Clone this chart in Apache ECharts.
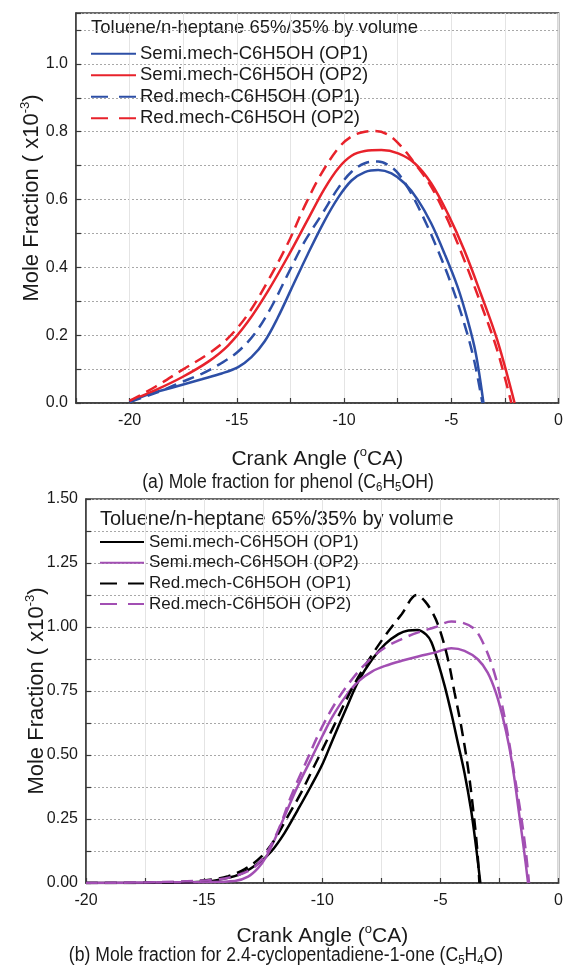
<!DOCTYPE html>
<html><head><meta charset="utf-8">
<script src="https://cdn.jsdelivr.net/npm/echarts@6/dist/echarts.min.js"></script>
<style>html,body{margin:0;padding:0;background:#fff}#c{width:566px;height:966px}</style>
</head><body><div id="c"></div>
<script>
// ---------- data ----------
const legendTitle = 'Toluene/n-heptane 65%/35% by volume';
const seriesNames = ['Semi.mech-C6H5OH (OP1)', 'Semi.mech-C6H5OH (OP2)', 'Red.mech-C6H5OH (OP1)', 'Red.mech-C6H5OH (OP2)'];
const topXLabels = [-20, -15, -10, -5, 0];
const topYLabels = ['0.0', '0.2', '0.4', '0.6', '0.8', '1.0'];
const botXLabels = [-20, -15, -10, -5, 0];
const botYLabels = ['0.00', '0.25', '0.50', '0.75', '1.00', '1.25', '1.50'];

// (a) phenol
const phenolSemiOP1 = [[-20,0.003],[-18.95,0.029],[-17.87,0.048],[-16.64,0.07],[-15.71,0.087],[-14.94,0.106],[-14.32,0.135],[-13.7,0.182],[-13.09,0.252],[-12.47,0.335],[-11.7,0.438],[-10.93,0.535],[-10.26,0.607],[-9.65,0.656],[-9.03,0.681],[-8.41,0.687],[-7.79,0.677],[-7.18,0.648],[-6.56,0.599],[-5.94,0.53],[-5.32,0.441],[-4.71,0.343],[-4.24,0.245],[-3.86,0.147],[-3.5,0]];
const phenolSemiOP2 = [[-20,0.006],[-18.8,0.038],[-17.56,0.076],[-16.33,0.122],[-15.4,0.17],[-14.48,0.24],[-13.55,0.33],[-12.62,0.432],[-11.7,0.54],[-10.93,0.63],[-10.26,0.693],[-9.65,0.729],[-9.03,0.743],[-8.26,0.746],[-7.48,0.736],[-6.71,0.707],[-5.94,0.648],[-5.17,0.559],[-4.4,0.451],[-3.63,0.323],[-2.86,0.186],[-2.05,0]];
const phenolRedOP1 = [[-20,0.003],[-18.64,0.033],[-17.56,0.062],[-16.64,0.086],[-15.71,0.118],[-14.94,0.152],[-14.17,0.204],[-13.4,0.282],[-12.62,0.38],[-11.85,0.475],[-11.0,0.56],[-10.26,0.635],[-9.65,0.682],[-9.03,0.707],[-8.41,0.712],[-7.95,0.702],[-7.48,0.677],[-6.87,0.618],[-6.25,0.54],[-5.63,0.451],[-5.02,0.353],[-4.4,0.235],[-3.94,0.127],[-3.55,0]];
const phenolRedOP2 = [[-20,0.006],[-18.8,0.048],[-17.56,0.097],[-16.33,0.145],[-15.4,0.192],[-14.48,0.262],[-13.55,0.36],[-12.62,0.471],[-11.85,0.579],[-11.08,0.674],[-10.26,0.752],[-9.65,0.786],[-9.03,0.8],[-8.56,0.802],[-7.95,0.791],[-7.33,0.756],[-6.71,0.707],[-5.94,0.638],[-5.17,0.54],[-4.4,0.422],[-3.63,0.294],[-2.86,0.156],[-2.2,0]];

// (b) 2.4-cyclopentadiene-1-one
const cpdSemiOP1 = [[-20,0],[-17,0.001],[-15,0.005],[-14.1,0.018],[-13.4,0.038],[-12.7,0.077],[-12.16,0.123],[-11.6,0.195],[-11.04,0.285],[-10.48,0.378],[-9.99,0.465],[-9.58,0.555],[-9.02,0.675],[-8.46,0.79],[-7.9,0.872],[-7.34,0.933],[-6.78,0.972],[-6.36,0.986],[-5.97,0.988],[-5.6,0.97],[-5.38,0.94],[-5.1,0.861],[-4.82,0.77],[-4.54,0.664],[-4.26,0.547],[-3.98,0.43],[-3.7,0.284],[-3.49,0.14],[-3.31,0]];
const cpdSemiOP2 = [[-20,0],[-17.5,0.002],[-15,0.004],[-13.7,0.008],[-13.14,0.025],[-12.72,0.058],[-12.37,0.103],[-12.02,0.169],[-11.6,0.26],[-11.04,0.378],[-10.48,0.483],[-9.99,0.575],[-9.58,0.648],[-9.02,0.728],[-8.46,0.789],[-7.9,0.826],[-7.34,0.848],[-6.64,0.868],[-5.94,0.885],[-5.24,0.9],[-4.54,0.917],[-3.98,0.907],[-3.42,0.874],[-3.0,0.822],[-2.65,0.743],[-2.37,0.651],[-2.09,0.533],[-1.88,0.415],[-1.67,0.271],[-1.46,0.127],[-1.29,0]];
const cpdRedOP1 = [[-20,0],[-17,0.001],[-16,0.004],[-14.68,0.014],[-13.98,0.027],[-13.28,0.054],[-12.58,0.103],[-12.02,0.169],[-11.46,0.26],[-10.9,0.352],[-10.34,0.457],[-9.99,0.522],[-9.58,0.6],[-8.74,0.76],[-8.04,0.87],[-7.34,0.966],[-6.64,1.05],[-6.0,1.125],[-5.65,1.1],[-5.3,1.05],[-5.03,0.99],[-4.68,0.874],[-4.4,0.743],[-4.12,0.612],[-3.84,0.455],[-3.63,0.3],[-3.45,0.14],[-3.35,0]];
const cpdRedOP2 = [[-20,0],[-17.5,0.002],[-16,0.006],[-14.4,0.014],[-13.7,0.027],[-13.0,0.054],[-12.58,0.09],[-12.16,0.149],[-11.74,0.234],[-11.32,0.339],[-10.76,0.457],[-10.06,0.6],[-9.44,0.704],[-8.74,0.796],[-8.04,0.868],[-7.34,0.92],[-6.64,0.953],[-5.94,0.979],[-5.24,0.999],[-4.54,1.021],[-4.12,1.018],[-3.56,0.992],[-3.14,0.927],[-2.72,0.822],[-2.44,0.717],[-2.16,0.586],[-1.88,0.429],[-1.6,0.271],[-1.39,0.127],[-1.25,0]];

// ---------- style ----------
const FONT = "'Liberation Sans', Arial, sans-serif";
const AX = '#3a3a3a';
const TXT = '#1a1a1a';
const BLUE = '#2d4fa6', RED = '#e8222b', BLACK = '#000000', PURPLE = '#a24fb3';
const DASH = [12, 7];
const LEG_DASH = [17, 11];
const botNames = seriesNames.map(n => n + '\u200b');

function mkSeries(name, data, color, dashed, xi) {
  return {
    name, type: 'line', xAxisIndex: xi, yAxisIndex: xi, data,
    symbol: 'none', showSymbol: false, smooth: 0.35,
    color, lineStyle: { color, width: 2.5, type: dashed ? DASH : 'solid' },
    emphasis: { disabled: true }, animation: false
  };
}

function legendData(names) {
  return names.map((n, i) => i >= 2 ? { name: n, lineStyle: { type: LEG_DASH } } : { name: n });
}

function xAxis(gi, min, labels, gap) {
  return {
    gridIndex: gi, type: 'value', min, max: 0, interval: 2.5,
    axisLine: { show: true, onZero: false, lineStyle: { color: AX, width: 1.5 } },
    axisTick: { show: true, inside: true, length: 5, lineStyle: { color: AX, width: 1.2 } },
    axisLabel: { fontSize: 16, color: TXT, fontFamily: FONT, margin: 10,
      formatter: v => (Math.abs(v - Math.round(v)) < 1e-9 && labels.includes(Math.round(v))) ? String(Math.round(v)) : '' },
    splitLine: { show: true, lineStyle: { color: '#e4e4e4', width: 1 } },
    name: 'Crank Angle ({sup|o}CA)', nameLocation: 'middle', nameGap: gap, nameMoveOverlap: false,
    nameTextStyle: { fontSize: 21, color: TXT, fontFamily: FONT,
      rich: { sup: { fontSize: 13, color: TXT, fontFamily: FONT, padding: [0, 0, 13, 0] } } }
  };
}

function yAxis(gi, max, interval, labels, digits, gap, shift) {
  return {
    gridIndex: gi, type: 'value', min: 0, max, interval,
    axisLine: { show: true, onZero: false, lineStyle: { color: AX, width: 1.5 } },
    axisTick: { show: true, inside: true, length: 5, lineStyle: { color: AX, width: 1.2 } },
    axisLabel: { fontSize: 16, color: TXT, fontFamily: FONT, margin: 8,
      formatter: v => { const s = v.toFixed(digits); return (labels.includes(s) && Math.abs(parseFloat(s) - v) < 1e-6) ? s : ''; } },
    splitLine: { show: true, lineStyle: { color: '#a8a8a8', width: 1, type: [2, 2] } },
    name: 'Mole Fraction ( x10{sup|-3})', nameLocation: 'middle', nameGap: gap, nameMoveOverlap: false,
    nameTextStyle: { fontSize: 22, color: TXT, fontFamily: FONT, padding: [0, 0, 0, shift],
      rich: { sup: { fontSize: 13, color: TXT, fontFamily: FONT, padding: [0, 0, 13, 0] } } }
  };
}

const chart = echarts.init(document.getElementById('c'), null, { renderer: 'canvas' });
chart.setOption({
  animation: false,
  backgroundColor: '#ffffff',
  grid: [
    { left: 76, top: 13, width: 486, height: 390, show: true, borderColor: AX, borderWidth: 1.5, backgroundColor: 'transparent' },
    { left: 86, top: 499, width: 476, height: 384, show: true, borderColor: AX, borderWidth: 1.5, backgroundColor: 'transparent' }
  ],
  xAxis: [ xAxis(0, -22.5, topXLabels, 43), xAxis(1, -20, botXLabels, 40) ],
  yAxis: [ yAxis(0, 1.15, 0.1, topYLabels, 1, 31, 20), yAxis(1, 1.5, 0.125, botYLabels, 2, 36, 0) ],
  legend: [
    { orient: 'vertical', left: 90, top: 44, padding: 0, itemWidth: 45, itemHeight: 14, itemGap: 2,
      selectedMode: false, data: legendData(seriesNames), itemStyle: { opacity: 0 },
      textStyle: { fontSize: 18.5, color: TXT, fontFamily: FONT, lineHeight: 19.5, padding: [0, 0, 0, -1] } },
    { orient: 'vertical', left: 99, top: 533, padding: 0, itemWidth: 44, itemHeight: 14, itemGap: 2.7,
      selectedMode: false, data: legendData(botNames), itemStyle: { opacity: 0 },
      textStyle: { fontSize: 17, color: TXT, fontFamily: FONT, lineHeight: 18 } }
  ],
  graphic: [
    { type: 'text', x: 91, y: 28, style: { text: legendTitle, fill: TXT, fontSize: 18.5, fontFamily: FONT, align: 'left', verticalAlign: 'middle' } },
    { type: 'text', x: 100, y: 519, style: { text: legendTitle, fill: TXT, fontSize: 20, fontFamily: FONT, align: 'left', verticalAlign: 'middle' } },
    { type: 'text', x: 288, y: 482, scaleX: 0.88, style: { text: '(a) Mole fraction for phenol (C{sub|6}H{sub|5}OH)', fill: TXT, fontSize: 20, fontFamily: FONT, align: 'center', verticalAlign: 'middle',
        rich: { sub: { fontSize: 13, fontFamily: FONT, fill: TXT, padding: [10, 0, 0, 0] } } } },
    { type: 'text', x: 286, y: 955, scaleX: 0.88, style: { text: '(b) Mole fraction for 2.4-cyclopentadiene-1-one (C{sub|5}H{sub|4}O)', fill: TXT, fontSize: 20, fontFamily: FONT, align: 'center', verticalAlign: 'middle',
        rich: { sub: { fontSize: 13, fontFamily: FONT, fill: TXT, padding: [10, 0, 0, 0] } } } }
  ],
  series: [
    mkSeries(seriesNames[0], phenolSemiOP1, BLUE, false, 0),
    mkSeries(seriesNames[1], phenolSemiOP2, RED, false, 0),
    mkSeries(seriesNames[2], phenolRedOP1, BLUE, true, 0),
    mkSeries(seriesNames[3], phenolRedOP2, RED, true, 0),
    mkSeries(botNames[0], cpdSemiOP1, BLACK, false, 1),
    mkSeries(botNames[1], cpdSemiOP2, PURPLE, false, 1),
    mkSeries(botNames[2], cpdRedOP1, BLACK, true, 1),
    mkSeries(botNames[3], cpdRedOP2, PURPLE, true, 1)
  ]
});
</script></body></html>
